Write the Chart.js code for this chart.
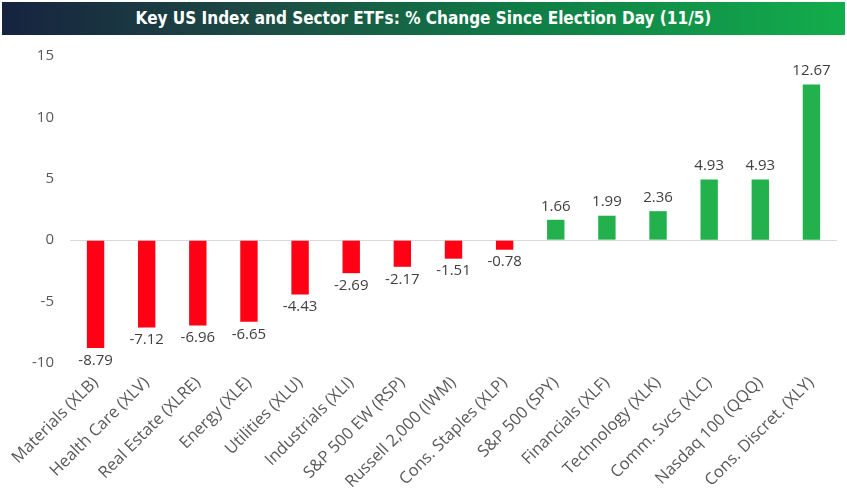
<!DOCTYPE html>
<html>
<head>
<meta charset="utf-8">
<script src="https://cdn.jsdelivr.net/npm/chart.js@4"></script>
<style>
  html, body { margin: 0; padding: 0; background: #fff; }
  body { width: 847px; height: 500px; overflow: hidden; position: relative; }
  #banner {
    position: absolute; left: 2px; top: 2px; width: 843px; height: 33px; z-index: 2;
    background: linear-gradient(to right, #16233f 0%, #1d4a44 30%, #0f7a45 60%, #13ad4c 100%);
    color: #fff; font-family: "DejaVu Sans Condensed", "Liberation Sans Narrow", sans-serif;
    font-weight: bold; font-size: 17px; line-height: 33px; text-align: center;
  }
  #wrap { position: absolute; left: 0; top: 31px; width: 847px; height: 469px; }
</style>
</head>
<body>
<div id="banner">Key US Index and Sector ETFs: % Change Since Election Day (11/5)</div>
<div id="wrap"><canvas id="etfChart"></canvas></div>
<script>
const categories = [
  "Materials (XLB)", "Health Care (XLV)", "Real Estate (XLRE)", "Energy (XLE)",
  "Utilities (XLU)", "Industrials (XLI)", "S&P 500 EW (RSP)", "Russell 2,000 (IWM)",
  "Cons. Staples (XLP)", "S&P 500 (SPY)", "Financials (XLF)", "Technology (XLK)",
  "Comm. Svcs (XLC)", "Nasdaq 100 (QQQ)", "Cons. Discret. (XLY)"
];
const changes = [-8.79, -7.12, -6.96, -6.65, -4.43, -2.69, -2.17, -1.51, -0.78, 1.66, 1.99, 2.36, 4.93, 4.93, 12.67];
const yTicks = [-10, -5, 0, 5, 10, 15];

const barColors = changes.map((v) => (v < 0 ? "rgb(255, 0, 20)" : "rgb(34, 177, 76)"));

// value labels above/below each bar
const valueLabels = {
  id: "valueLabels",
  afterDatasetsDraw(chart) {
    const ctx = chart.ctx;
    const meta = chart.getDatasetMeta(0);
    ctx.save();
    ctx.font = "15px 'Open Sans', sans-serif";
    ctx.fillStyle = "#404040";
    ctx.textAlign = "center";
    meta.data.forEach((bar, i) => {
      const v = changes[i];
      if (v < 0) {
        ctx.textBaseline = "top";
        ctx.fillText(v.toFixed(2), bar.x, bar.y + 5);
      } else {
        ctx.textBaseline = "bottom";
        ctx.fillText(v.toFixed(2), bar.x, bar.y - 6);
      }
    });
    ctx.restore();
  },
};

const ctx = document.getElementById("etfChart").getContext("2d");
const etfChart = new Chart(ctx, {
  type: "bar",
  data: {
    labels: categories,
    datasets: [
      {
        data: changes,
        backgroundColor: barColors,
        borderWidth: 0,
        barPercentage: 0.34,
        categoryPercentage: 1,
      },
    ],
  },
  options: {
    responsive: true,
    maintainAspectRatio: false,
    animation: false,
    layout: { padding: { left: 16, right: 10, top: 0, bottom: 6 } },
    plugins: { legend: false, tooltip: { enabled: false } },
    scales: {
      x: {
        grid: { display: false },
        border: { display: false },
        ticks: {
          color: "#595959",
          font: { family: "'Open Sans', sans-serif", size: 16.5 },
          maxRotation: 45,
          minRotation: 45,
          autoSkip: false,
          padding: 2,
        },
      },
      y: {
        min: -10,
        max: 15,
        afterBuildTicks: (axis) => {
          axis.ticks = yTicks.map((v) => ({ value: v }));
        },
        grid: {
          drawTicks: false,
          color: (c) => (c.tick && c.tick.value === 0 ? "#d9d9d9" : "rgba(0,0,0,0)"),
        },
        border: { display: false },
        ticks: {
          color: "#595959",
          font: { family: "'Open Sans', sans-serif", size: 15 },
          padding: 16,
        },
      },
    },
  },
  plugins: [valueLabels],
});
</script>
</body>
</html>
